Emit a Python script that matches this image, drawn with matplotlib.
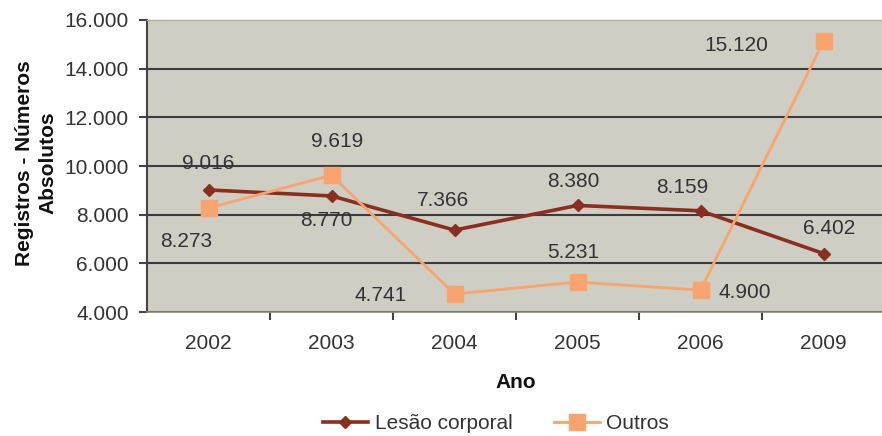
import matplotlib
matplotlib.use('Agg')
import matplotlib.pyplot as plt
from matplotlib.ticker import FuncFormatter, FixedLocator

plt.rcParams['font.family'] = ['Liberation Sans', 'DejaVu Sans']

anos = ['2002', '2003', '2004', '2005', '2006', '2009']
lesao = [9016, 8770, 7366, 8380, 8159, 6402]
outros = [8273, 9619, 4741, 5231, 4900, 15120]

# label offsets in points (dx, dy)
lesao_off = [(0, 19), (-4, -18), (-8, 21), (-3, 17), (-13, 17), (4, 18)]
outros_off = [(-16, -24), (4, 24), (-53, -1), (-3, 21), (32, -2), (-63, -3)]

c_lesao = '#8a2e1f'
c_outros = '#f8a46e'
txt = '#333333'
fs = 15

fig = plt.figure(figsize=(8.82, 4.36), dpi=100)
ax = fig.add_axes([147 / 882, 1 - 312 / 436, 738 / 882, 292 / 436])
ax.set_facecolor('#cfcec5')

x = list(range(len(anos)))
ax.plot(x, lesao, color=c_lesao, lw=2.6, marker='D', ms=6, label='Lesão corporal', zorder=3)
ax.plot(x, outros, color=c_outros, lw=2, marker='s', ms=11, label='Outros', zorder=4)

for i, v in enumerate(lesao):
    ax.annotate(f"{v/1000:.3f}", (i, v), xytext=lesao_off[i], textcoords='offset points',
                ha='center', va='center', fontsize=fs, color=txt, zorder=5)
for i, v in enumerate(outros):
    ax.annotate(f"{v/1000:.3f}", (i, v), xytext=outros_off[i], textcoords='offset points',
                ha='center', va='center', fontsize=fs, color=txt, zorder=5)

ax.set_xlim(-0.5, 5.5)
ax.set_ylim(4000, 16000)
ax.set_yticks(range(4000, 16001, 2000))
ax.yaxis.set_major_formatter(FuncFormatter(lambda v, p: f"{v/1000:.3f}"))
ax.grid(axis='y', color='#3c3c3c', lw=1.5, zorder=1)
ax.set_axisbelow(True)
ax.yaxis.get_gridlines()[-1].set_visible(False)

ax.set_xticks(x)
ax.set_xticklabels(anos)
ax.tick_params(axis='x', length=0, pad=16, labelsize=fs, labelcolor=txt)
ax.xaxis.set_minor_locator(FixedLocator([0.5, 1.5, 2.5, 3.5, 4.5]))
ax.tick_params(axis='x', which='minor', length=6, width=1.5, color='#444444', direction='out')
ax.tick_params(axis='y', length=6, width=1.5, color='#444444', pad=7, labelsize=fs, labelcolor=txt)

ax.spines['top'].set_color('#b0ae9c')
ax.spines['top'].set_linewidth(1)
ax.spines['right'].set_visible(False)
ax.spines['left'].set_color('#444444')
ax.spines['left'].set_linewidth(1.5)
ax.spines['bottom'].set_color('#8a8a80')
ax.spines['bottom'].set_linewidth(1.2)

ax.set_xlabel('Ano', fontsize=fs, fontweight='bold', labelpad=14, color='#111111')
fig.text(0.041, 0.626, 'Registros - Números\nAbsolutos', rotation=90, ha='center', va='center',
         fontsize=fs, fontweight='bold', color='#111111', linespacing=1.35)

fig.legend(loc='center', bbox_to_anchor=(0.562, 0.028), ncol=2, frameon=False,
           fontsize=fs, handlelength=2.2, columnspacing=2, handletextpad=0.3,
           labelcolor=txt, borderpad=0)

fig.savefig('out.png', dpi=100)
